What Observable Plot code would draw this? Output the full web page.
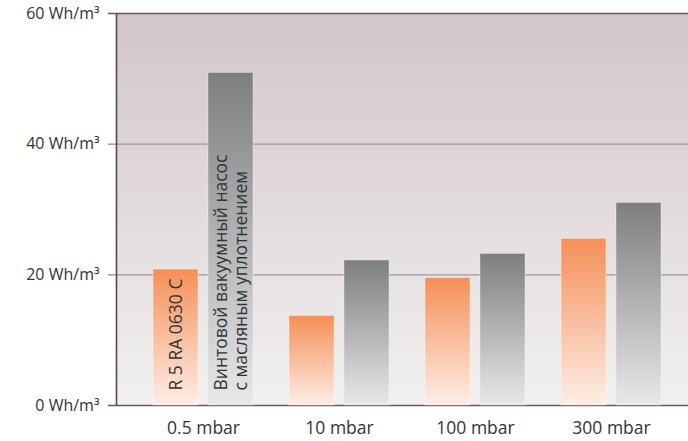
<!DOCTYPE html>
<html>
<head>
<meta charset="utf-8">
<script src="https://cdn.jsdelivr.net/npm/d3@7"></script>
<script src="https://cdn.jsdelivr.net/npm/@observablehq/plot@0.6"></script>
<style>
  html, body { margin: 0; padding: 0; background: #ffffff; }
  #wrap { position: relative; width: 688px; height: 441px; overflow: hidden; }
  #wrap > svg { position: absolute; left: 0; top: 0; }
</style>
</head>
<body>
<svg width="0" height="0" style="position:absolute">
  <defs>
    <linearGradient id="bgGrad" x1="0" y1="0" x2="0" y2="1">
      <stop offset="0" stop-color="#d3c6c8"/>
      <stop offset="0.5" stop-color="#e2dbdc"/>
      <stop offset="1" stop-color="#f2f0f0"/>
    </linearGradient>
    <linearGradient id="orangeGrad" x1="0" y1="0" x2="0" y2="1">
      <stop offset="0" stop-color="#f58f57"/>
      <stop offset="1" stop-color="#fdeee6"/>
    </linearGradient>
    <linearGradient id="grayGrad" x1="0" y1="0" x2="0" y2="1">
      <stop offset="0" stop-color="#7d7e80"/>
      <stop offset="1" stop-color="#e8e8e9"/>
    </linearGradient>
  </defs>
</svg>
<div id="wrap"></div>
<script>
// ---- data ----
const groups = ["0.5 mbar", "10 mbar", "100 mbar", "300 mbar"];
const seriesKeys = ["r5", "screw"];
const r5Values = [20.8, 13.7, 19.5, 25.5];
const screwValues = [50.9, 22.2, 23.2, 31.0];
const yTicks = [0, 20, 40, 60];
const barLabelGroup = ["0.5 mbar", "0.5 mbar"];
const barLabelSeries = ["r5", "screw"];
const barLabelTexts = ["R 5 RA 0630 C", "Винтовой вакуумный насос\nс масляным уплотнением"];

const rows = [];
groups.forEach((g, i) => {
  rows.push({group: g, series: "r5", value: r5Values[i]});
  rows.push({group: g, series: "screw", value: screwValues[i]});
});
const labels = barLabelTexts.map((t, i) => ({group: barLabelGroup[i], series: barLabelSeries[i], text: t}));

const W = 688, H = 441;
const common = {
  width: W, height: H,
  marginTop: 13, marginBottom: 36, marginLeft: 116, marginRight: 0,
  style: {fontFamily: "'Open Sans', sans-serif", background: "transparent", overflow: "visible"}
};
const font = "'Open Sans', sans-serif";
const dark = "#6a5363";
const light = "#a7959f";

// ---- base layer: background, grid, axes ----
const base = Plot.plot({
  ...common,
  x: {domain: [0, 1], axis: null},
  y: {domain: [0, 60], axis: null},
  marks: [
    Plot.frame({fill: "url(#bgGrad)", stroke: "none"}),
    Plot.ruleY([20, 40], {stroke: light, strokeWidth: 1.3}),
    Plot.ruleY([0, 60], {stroke: dark, strokeWidth: 1.6}),
    Plot.axisY(yTicks, {
      tickSize: 8, tickPadding: 9,
      stroke: d => (d === 0 || d === 60) ? dark : light,
      strokeWidth: 1.5,
      fill: "#333333", fontSize: 16, fontFamily: font,
      tickFormat: d => `${d} Wh/m³`
    }),
    Plot.ruleX([0], {y1: 0, y2: 60, stroke: "#5a4456", strokeWidth: 1.6})
  ]
});

// ---- bars layer ----
const bars = Plot.plot({
  ...common,
  fx: {domain: groups, range: [135, 679], paddingInner: 0, paddingOuter: 0, label: null},
  x: {domain: seriesKeys, paddingInner: 10 / 55, paddingOuter: 18 / 55, axis: null},
  y: {domain: [0, 60], axis: null},
  marks: [
    Plot.barY(rows.filter(d => d.series === "r5"), {
      fx: "group", x: "series", y: "value",
      fill: "url(#orangeGrad)", stroke: "#ffffff", strokeOpacity: 0.35, strokeWidth: 1
    }),
    Plot.barY(rows.filter(d => d.series === "screw"), {
      fx: "group", x: "series", y: "value",
      fill: "url(#grayGrad)", stroke: "#ffffff", strokeOpacity: 0.35, strokeWidth: 1
    }),
    Plot.text(labels, {
      fx: "group", x: "series", y: () => 0, text: "text",
      rotate: -90, textAnchor: "start", lineAnchor: "middle", lineHeight: 1.14,
      dy: -15, fontSize: 17.5, fontFamily: font, fill: "#333333"
    }),
    Plot.axisFx({
      anchor: "bottom", tickSize: 0, tickPadding: 16, label: null,
      fontSize: 17.5, fontFamily: font, fill: "#333333"
    })
  ]
});

const wrap = document.getElementById("wrap");
wrap.appendChild(base);
wrap.appendChild(bars);
</script>
</body>
</html>
